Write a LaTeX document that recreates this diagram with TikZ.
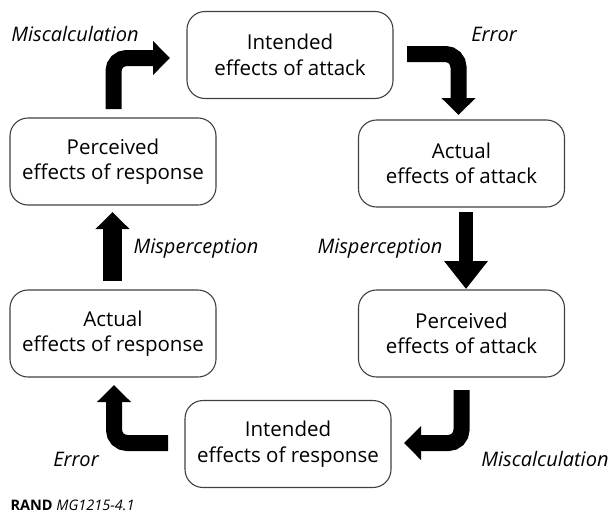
\documentclass[tikz,border=0pt]{standalone}
\usepackage{fontspec}
\setmainfont{Open Sans}
\usetikzlibrary{arrows.meta}

\begin{document}
\begin{tikzpicture}[x=1pt,y=-1pt,
                    box/.style={draw=black!75,line width=1.1pt,rounded corners=18pt,
                                minimum width=206pt,minimum height=87pt,align=center,
                                inner sep=2pt,font=\fontsize{20.5}{25.5}\selectfont},
                    lbl/.style={font=\fontsize{20}{24}\selectfont\itshape},
                    bent/.style={line width=16pt,rounded corners=13pt,
                                 -{Triangle[width=33pt,length=17pt]}},
                    straight/.style={line width=#1,-{Triangle[width=33pt,length=17pt]}}]

\useasboundingbox (0,0) rectangle (609,514);

% the six boxes of the cycle
\node[box] (IA) at (290,55)    {Intended\\effects of attack};
\node[box] (AA) at (461.5,163.5) {Actual\\effects of attack};
\node[box] (PA) at (461.5,333.5) {Perceived\\effects of attack};
\node[box] (IR) at (288,444)   {Intended\\effects of response};
\node[box] (AR) at (113,333.5) {Actual\\effects of response};
\node[box] (PR) at (113,161.5) {Perceived\\effects of response};

% free ends of the arrows
\coordinate (a1) at (113.5,109);  \coordinate (k1) at (113.5,58);  \coordinate (t1) at (170,58);
\coordinate (a2) at (407,54);     \coordinate (k2) at (458.5,54);  \coordinate (t2) at (458.5,115);
\coordinate (a3) at (466,212);    \coordinate (t3) at (466,289);
\coordinate (a4) at (461.5,390);  \coordinate (k4) at (461.5,443); \coordinate (t4) at (404,443);
\coordinate (a5) at (168,443);    \coordinate (k5) at (114,443);   \coordinate (t5) at (114,385);
\coordinate (a6) at (112.5,281);  \coordinate (t6) at (112.5,212);

\draw[bent] (a1) -- (k1) -- (t1);
\draw[bent] (a2) -- (k2) -- (t2);
\draw[line width=14pt,-{Triangle[width=42pt,length=28pt]}] (a3) -- (t3);
\draw[bent] (a4) -- (k4) -- (t4);
\draw[bent] (a5) -- (k5) -- (t5);
\draw[straight=19pt] (a6) -- (t6);

% labels
\node[lbl] (m1) at (75,34)   {Miscalculation};
\node[lbl] (e1) at (494,34)  {Error};
\node[lbl] (p1) at (380,249) {Misperception};
\node[lbl] (m2) at (545,459) {Miscalculation};
\node[lbl] (e2) at (76,459)  {Error};
\node[lbl] (p2) at (196,249) {Misperception};

\node[anchor=west,font=\fontsize{14.5}{17}\selectfont] (src) at (7,505)
     {\textbf{RAND} \textit{MG1215-4.1}};
\end{tikzpicture}
\end{document}
